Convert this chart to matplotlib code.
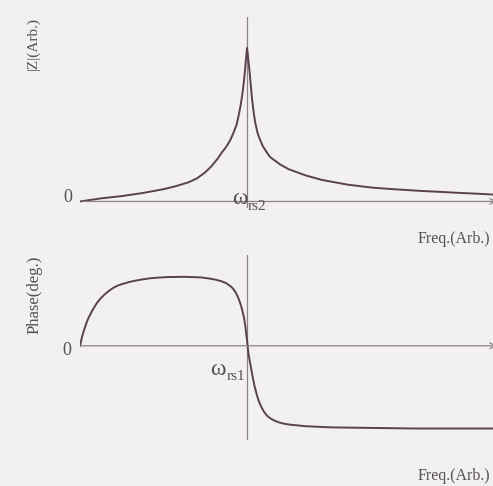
import matplotlib
matplotlib.use("Agg")
import matplotlib.pyplot as plt

plt.rcParams['font.family'] = ['Liberation Serif', 'DejaVu Serif']

# |Z| vs frequency (arbitrary units, resonance at 4.0)
freq_z = [0, 0.5, 1.0, 1.5, 2.0, 2.3, 2.6, 2.8, 3.0, 3.15, 3.3, 3.4, 3.5,
          3.6, 3.68, 3.75, 3.8, 3.85, 3.9, 3.94, 3.97, 3.99, 4.0, 4.01, 4.03,
          4.06, 4.09, 4.12, 4.16, 4.2, 4.25, 4.3, 4.38, 4.45, 4.55, 4.65, 4.8,
          5.0, 5.2, 5.4, 5.6, 5.8, 6.1, 6.4, 6.7, 7.0, 7.4, 7.8, 8.2, 8.6,
          9.0, 9.4, 9.9]
z_mag = [0.0, 0.02, 0.035, 0.055, 0.08, 0.10, 0.125, 0.15, 0.19, 0.23, 0.28,
         0.32, 0.355, 0.40, 0.45, 0.50, 0.56, 0.63, 0.72, 0.82, 0.91, 0.97,
         1.0, 0.98, 0.93, 0.85, 0.76, 0.67, 0.58, 0.51, 0.45, 0.41, 0.36,
         0.33, 0.29, 0.27, 0.24, 0.21, 0.19, 0.17, 0.155, 0.14, 0.125, 0.11,
         0.10, 0.09, 0.082, 0.075, 0.068, 0.063, 0.057, 0.052, 0.045]

# phase vs frequency
freq_p = [0, 0.05, 0.1, 0.15, 0.2, 0.3, 0.4, 0.5, 0.6, 0.7, 0.8, 0.9, 1.0,
          1.15, 1.3, 1.5, 1.7, 1.9, 2.1, 2.5, 2.9, 3.1, 3.25, 3.4, 3.5, 3.6,
          3.66, 3.72, 3.77, 3.82, 3.86, 3.9, 3.93, 3.96, 3.98, 4.0, 4.02,
          4.04, 4.07, 4.1, 4.14, 4.18, 4.23, 4.28, 4.34, 4.4, 4.47, 4.55,
          4.65, 4.75, 4.87, 5.0, 5.4, 6.0, 7.0, 8.0, 9.0, 9.9]
phase = [0, 8, 14, 19.5, 24, 31, 37, 41.5, 45, 48, 50.5, 52.3, 53.6, 55.2,
         56.5, 57.8, 58.8, 59.4, 59.8, 60, 59.5, 58.5, 57.5, 56, 54.5, 52, 50,
         47, 43.5, 39, 34.5, 29, 24, 17, 11, 5, -2, -8, -14, -20, -28, -35,
         -42, -48, -53, -57, -60.5, -63, -65, -66.5, -67.7, -68.5, -70, -71,
         -71.5, -72, -72, -72]

f_res = 4.0
W, H = 493, 486
bg = '#f2f1ef'
axis_col = '#8c8189'
line_col = '#5a4150'
txt_col = '#555055'

fig = plt.figure(figsize=(W / 100, H / 100), dpi=100, facecolor=bg)

def place(left, top, right, bottom):
    # pixel box -> figure fraction
    return [left / W, 1 - bottom / H, (right - left) / W, (bottom - top) / H]

# --- top panel: |Z| ---
ax1 = fig.add_axes(place(80, 17.3, 497.5, 207.6))
ax1.axis('off')
ax1.set_xlim(0, 10)
ax1.set_ylim(-0.04, 1.2)
ax1.axvline(f_res, color=axis_col, lw=0.9)
ax1.annotate('', xy=(10.05, 0), xytext=(0, 0), annotation_clip=False,
             arrowprops=dict(arrowstyle='->', color=axis_col, lw=0.9))
ax1.plot(freq_z, z_mag, color=line_col, lw=1.4)

# --- bottom panel: phase ---
ax2 = fig.add_axes(place(80, 255, 497.5, 440))
ax2.axis('off')
ax2.set_xlim(0, 10)
ax2.set_ylim(-82, 79)
ax2.axvline(f_res, color=axis_col, lw=0.9)
ax2.annotate('', xy=(10.05, 0), xytext=(-0.05, 0), annotation_clip=False,
             arrowprops=dict(arrowstyle='->', color=axis_col, lw=0.9))
ax2.plot(freq_p, phase, color=line_col, lw=1.4)

# texts
def ptext(x, y, s, **kw):
    fig.text(x / W, 1 - y / H, s, color=txt_col, **kw)

ptext(68, 197, '0', fontsize=13, ha='center', va='center')
ptext(67, 350, '0', fontsize=13, ha='center', va='center')
ptext(240, 198, 'ω', fontsize=17, ha='center', va='center')
ptext(248, 207, 'rs2', fontsize=11, ha='left', va='center')
ptext(218, 369, 'ω', fontsize=17, ha='center', va='center')
ptext(227, 377, 'rs1', fontsize=11, ha='left', va='center')
ptext(33, 44, '|Z|(Arb.)', fontsize=11, rotation=90, ha='center', va='center')
ptext(35, 295, 'Phase(deg.)', fontsize=12, rotation=90, ha='center', va='center')
ptext(490, 239, 'Freq.(Arb.)', fontsize=11.5, ha='right', va='center')
ptext(490, 476, 'Freq.(Arb.)', fontsize=11.5, ha='right', va='center')

fig.savefig('out.png', dpi=100, facecolor=bg)
